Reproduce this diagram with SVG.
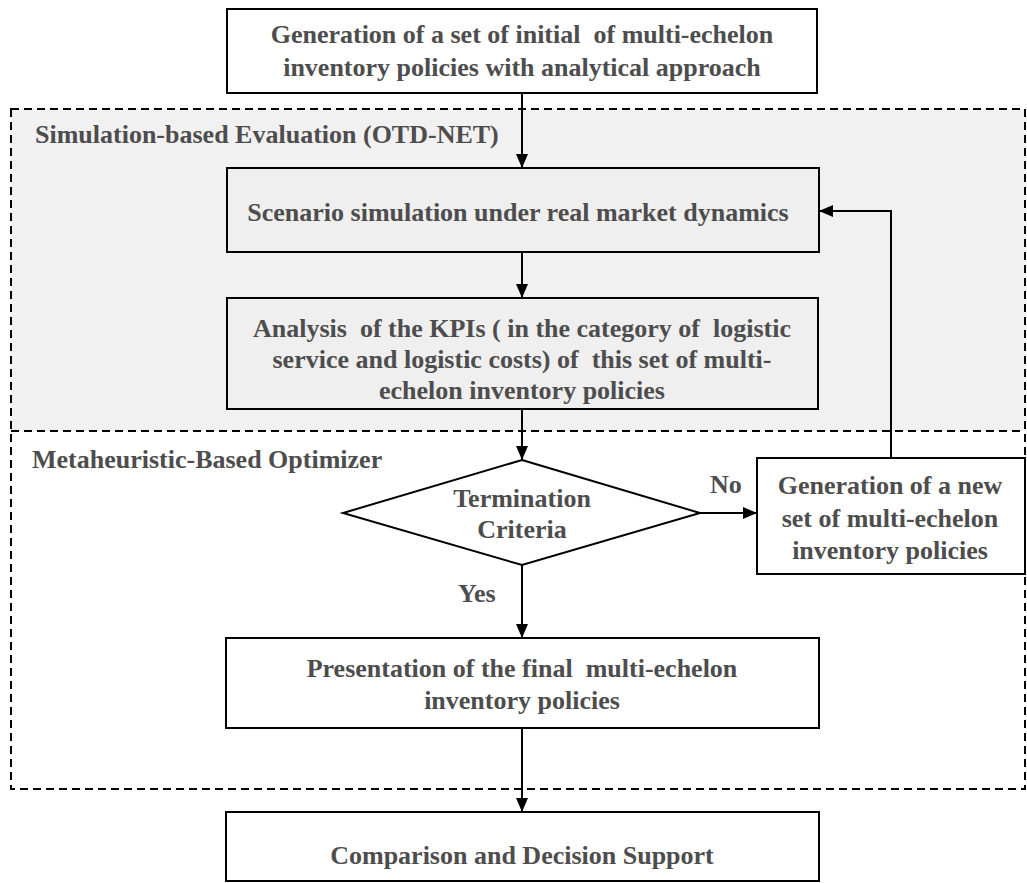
<svg xmlns="http://www.w3.org/2000/svg" width="1027" height="883" viewBox="0 0 1027 883" xml:space="preserve">
<defs>
<marker id="ah" markerUnits="userSpaceOnUse" markerWidth="14" markerHeight="12" refX="14" refY="6" orient="auto"><path d="M0,0 L14,6 L0,12 z" fill="#000"/></marker>
<style>
text{font-family:"Liberation Serif","Times New Roman",serif;font-weight:bold;font-size:26px;fill:#4d4d4d;white-space:pre}
.c{text-anchor:middle}
.box{stroke:#000;stroke-width:2;fill:#fff}
.gbox{stroke:#000;stroke-width:2;fill:#efefef}
.dash{stroke:#000;stroke-width:2;fill:none;stroke-dasharray:8 5}
.con{stroke:#000;stroke-width:2;fill:none;marker-end:url(#ah)}
</style>
</defs>
<rect width="1027" height="883" fill="#fff"/>
<g id="regions">
<rect x="11" y="109" width="1014" height="322" fill="#f1f1f1"/>
<rect class="dash" x="11" y="109" width="1014" height="680"/>
<line class="dash" x1="11" y1="431" x2="1025" y2="431"/>
<text x="35" y="143">Simulation-based Evaluation (OTD-NET)</text>
<text x="32" y="468">Metaheuristic-Based Optimizer</text>
</g>
<g id="n-init">
<rect class="box" x="227" y="9" width="590" height="84"/>
<text class="c" x="522" y="43">Generation of a set of initial  of multi-echelon</text>
<text class="c" x="522" y="76">inventory policies with analytical approach</text>
</g>
<g id="n-scenario">
<rect class="gbox" x="227" y="168" width="592" height="84"/>
<text class="c" x="518" y="221">Scenario simulation under real market dynamics</text>
</g>
<g id="n-kpi">
<rect class="gbox" x="227" y="298" width="591" height="111"/>
<text class="c" x="522" y="337">Analysis  of the KPIs ( in the category of  logistic</text>
<text class="c" x="522" y="368">service and logistic costs) of  this set of multi-</text>
<text class="c" x="522" y="399">echelon inventory policies</text>
</g>
<g id="n-term">
<polygon points="522,460 700,513 522,565 343,513" fill="#fff" stroke="#000" stroke-width="2"/>
<text class="c" x="522" y="507">Termination</text>
<text class="c" x="522" y="538">Criteria</text>
</g>
<g id="n-new">
<rect class="box" x="757" y="458" width="268" height="116"/>
<text class="c" x="890" y="494">Generation of a new</text>
<text class="c" x="890" y="527">set of multi-echelon</text>
<text class="c" x="890" y="559">inventory policies</text>
</g>
<g id="n-final">
<rect class="box" x="226" y="638" width="593" height="90"/>
<text class="c" x="522" y="677">Presentation of the final  multi-echelon</text>
<text class="c" x="522" y="709">inventory policies</text>
</g>
<g id="n-compare">
<rect class="box" x="226" y="812" width="593" height="69"/>
<text class="c" x="522" y="864">Comparison and Decision Support</text>
</g>
<g id="connectors">
<line class="con" x1="522" y1="93" x2="522" y2="168"/>
<line class="con" x1="522" y1="252" x2="522" y2="298"/>
<line class="con" x1="522" y1="409" x2="522" y2="460"/>
<line class="con" x1="522" y1="565" x2="522" y2="638"/>
<line class="con" x1="522" y1="728" x2="522" y2="812"/>
<line class="con" x1="700" y1="513" x2="757" y2="513"/>
<polyline class="con" points="891,458 891,211 819,211"/>
<text x="710" y="493">No</text>
<text x="458" y="602">Yes</text>
</g>
</svg>
